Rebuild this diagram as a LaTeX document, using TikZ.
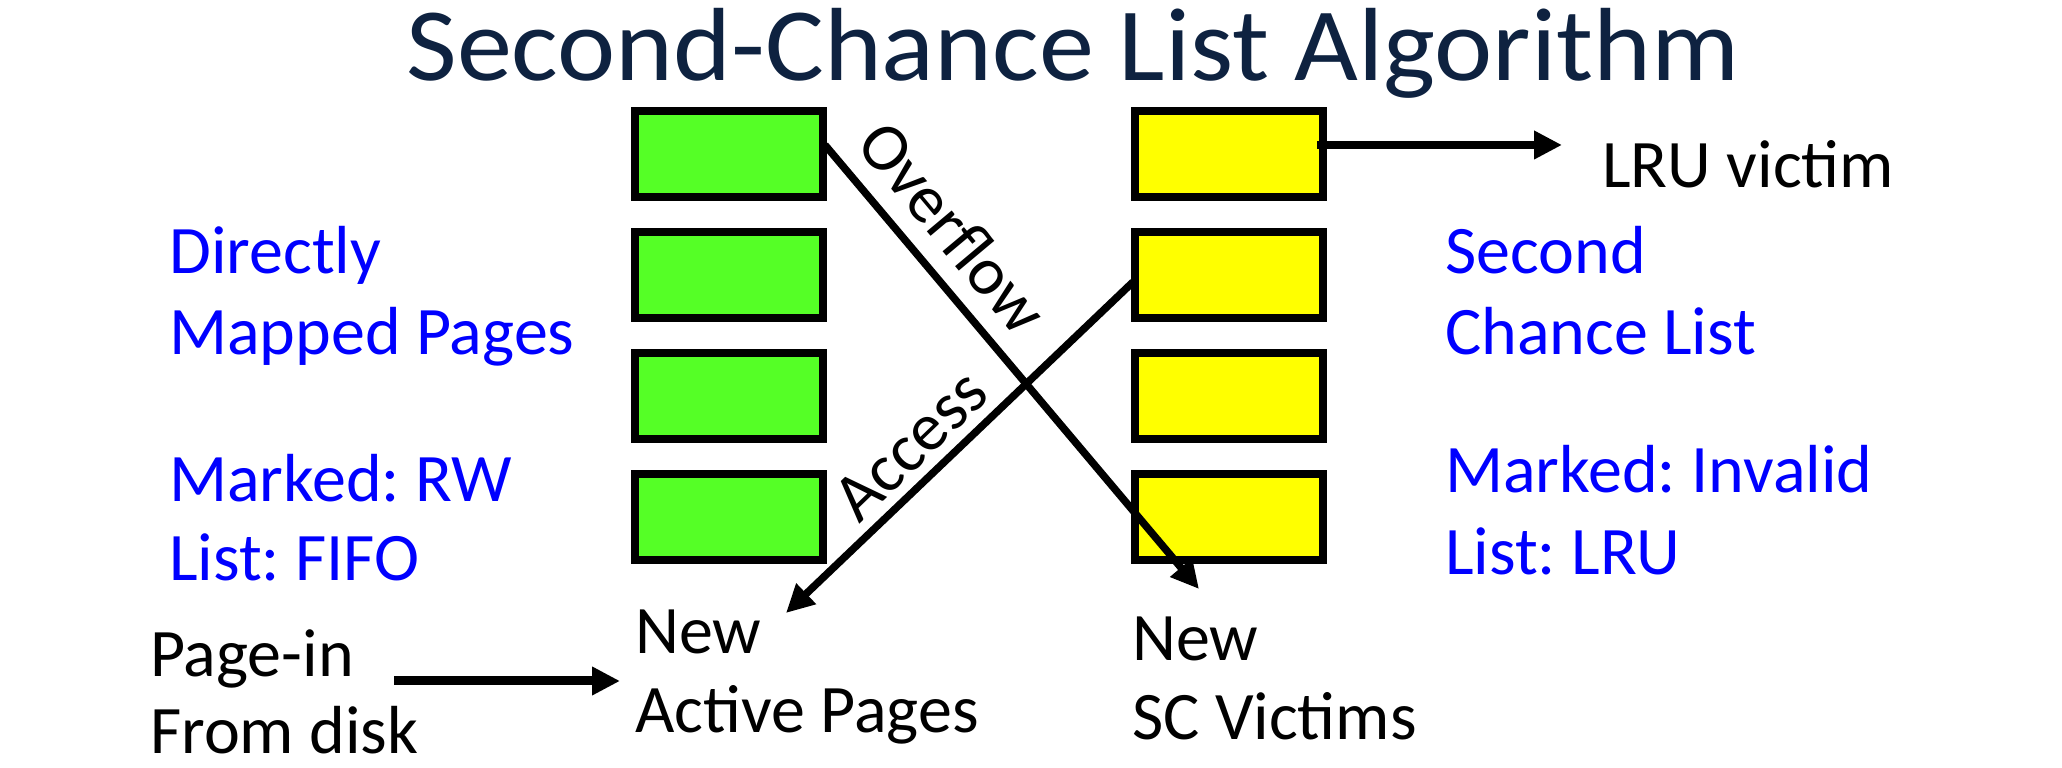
\documentclass[tikz,border=0pt]{standalone}
\usepackage{fontspec}
\setmainfont{Carlito}
\newfontfamily\titlefont[FakeStretch=1.06]{Carlito}
\usetikzlibrary{arrows.meta,calc}
\definecolor{pgreen}{RGB}{85,255,38}
\definecolor{pyellow}{RGB}{255,255,0}
\definecolor{pblue}{RGB}{0,0,255}
\definecolor{ptitle}{RGB}{14,34,64}
\frenchspacing
\begin{document}
\begin{tikzpicture}[x=1pt,y=1pt,
  pagebox/.style={draw=black,line width=8pt,minimum width=188pt,minimum height=86pt,inner sep=0pt},
  gbox/.style={pagebox,fill=pgreen},
  ybox/.style={pagebox,fill=pyellow},
  bodyfont/.style={font=\fontsize{68}{80}\selectfont},
  bluetxt/.style={bodyfont,text=pblue,anchor=base west,inner sep=0pt},
  blacktxt/.style={bodyfont,text=black,anchor=base west,inner sep=0pt},
  flow/.style={line width=7.5pt,-{Triangle[length=28pt,width=27pt]}},
  flowlbl/.style={bodyfont,sloped,above,inner sep=0pt,outer sep=0pt},
]
\useasboundingbox (0,0) rectangle (2062,768);
% title
\node[anchor=base,inner sep=0pt,text=ptitle,font=\titlefont\fontsize{104}{110}\selectfont] (title) at (1073,687) {Second-Chance List Algorithm};
% green boxes
\node[gbox] (g1) at (729,613.5) {};
\node[gbox] (g2) at (729,493) {};
\node[gbox] (g3) at (729,372) {};
\node[gbox] (g4) at (729,251) {};
% yellow boxes
\node[ybox] (y1) at (1229,613.5) {};
\node[ybox] (y2) at (1229,493) {};
\node[ybox] (y3) at (1229,372) {};
\node[ybox] (y4) at (1229,251) {};
% blue labels
\node[bluetxt] (dir1) at (169,494) {Directly};
\node[bluetxt] (dir2) at (169,413) {Mapped Pages};
\node[bluetxt] (mk1) at (169,266) {Marked: RW};
\node[bluetxt] (ls1) at (169,187) {List: FIFO};
\node[bluetxt] (sc1) at (1445,494) {Second};
\node[bluetxt] (sc2) at (1445,413) {Chance List};
\node[bluetxt] (mk2) at (1445,275) {Marked: Invalid};
\node[bluetxt] (ls2) at (1445,193) {List: LRU};
% black labels
\node[blacktxt] (lru) at (1602,580) {LRU victim};
\node[blacktxt] (na1) at (635,114) {New};
\node[blacktxt] (na2) at (635,35) {Active Pages};
\node[blacktxt] (pi1) at (150,91) {Page-in};
\node[blacktxt] (pi2) at (150,14) {From disk};
\node[blacktxt] (nv1) at (1132,107) {New};
\node[blacktxt] (nv2) at (1132,28) {SC Victims};
% coordinates for arrow ends
\coordinate (oTip) at (1199,179);
\coordinate (aTip) at (786,155);
\coordinate (lTip) at (1562,623);
\coordinate (pS) at (394,87);
\coordinate (pE) at (620,87);
% arrows
\draw[flow] ($(g1.east)+(-2,9.5)$) -- node[flowlbl,pos=0.25] (ovlpos) {} (oTip);
\node[bodyfont,anchor=south,inner sep=0pt,rotate=-50.04] (ovl) at ($(ovlpos)+(16,13)$) {Overflow};
\draw[flow] ($(y2.west)+(2,-7)$) -- node[flowlbl,pos=0.57] (aclpos) {} (aTip);
\node[bodyfont,anchor=south,inner sep=0pt,rotate=43.9] (acl) at ($(aclpos)+(-9,9)$) {Access};
\draw[flow] ($(y1.east)+(-10,9.5)$) -- (lTip);
\draw[line width=9pt,-{Triangle[length=28pt,width=27pt]}] (pS) -- (pE);
\end{tikzpicture}
\end{document}
